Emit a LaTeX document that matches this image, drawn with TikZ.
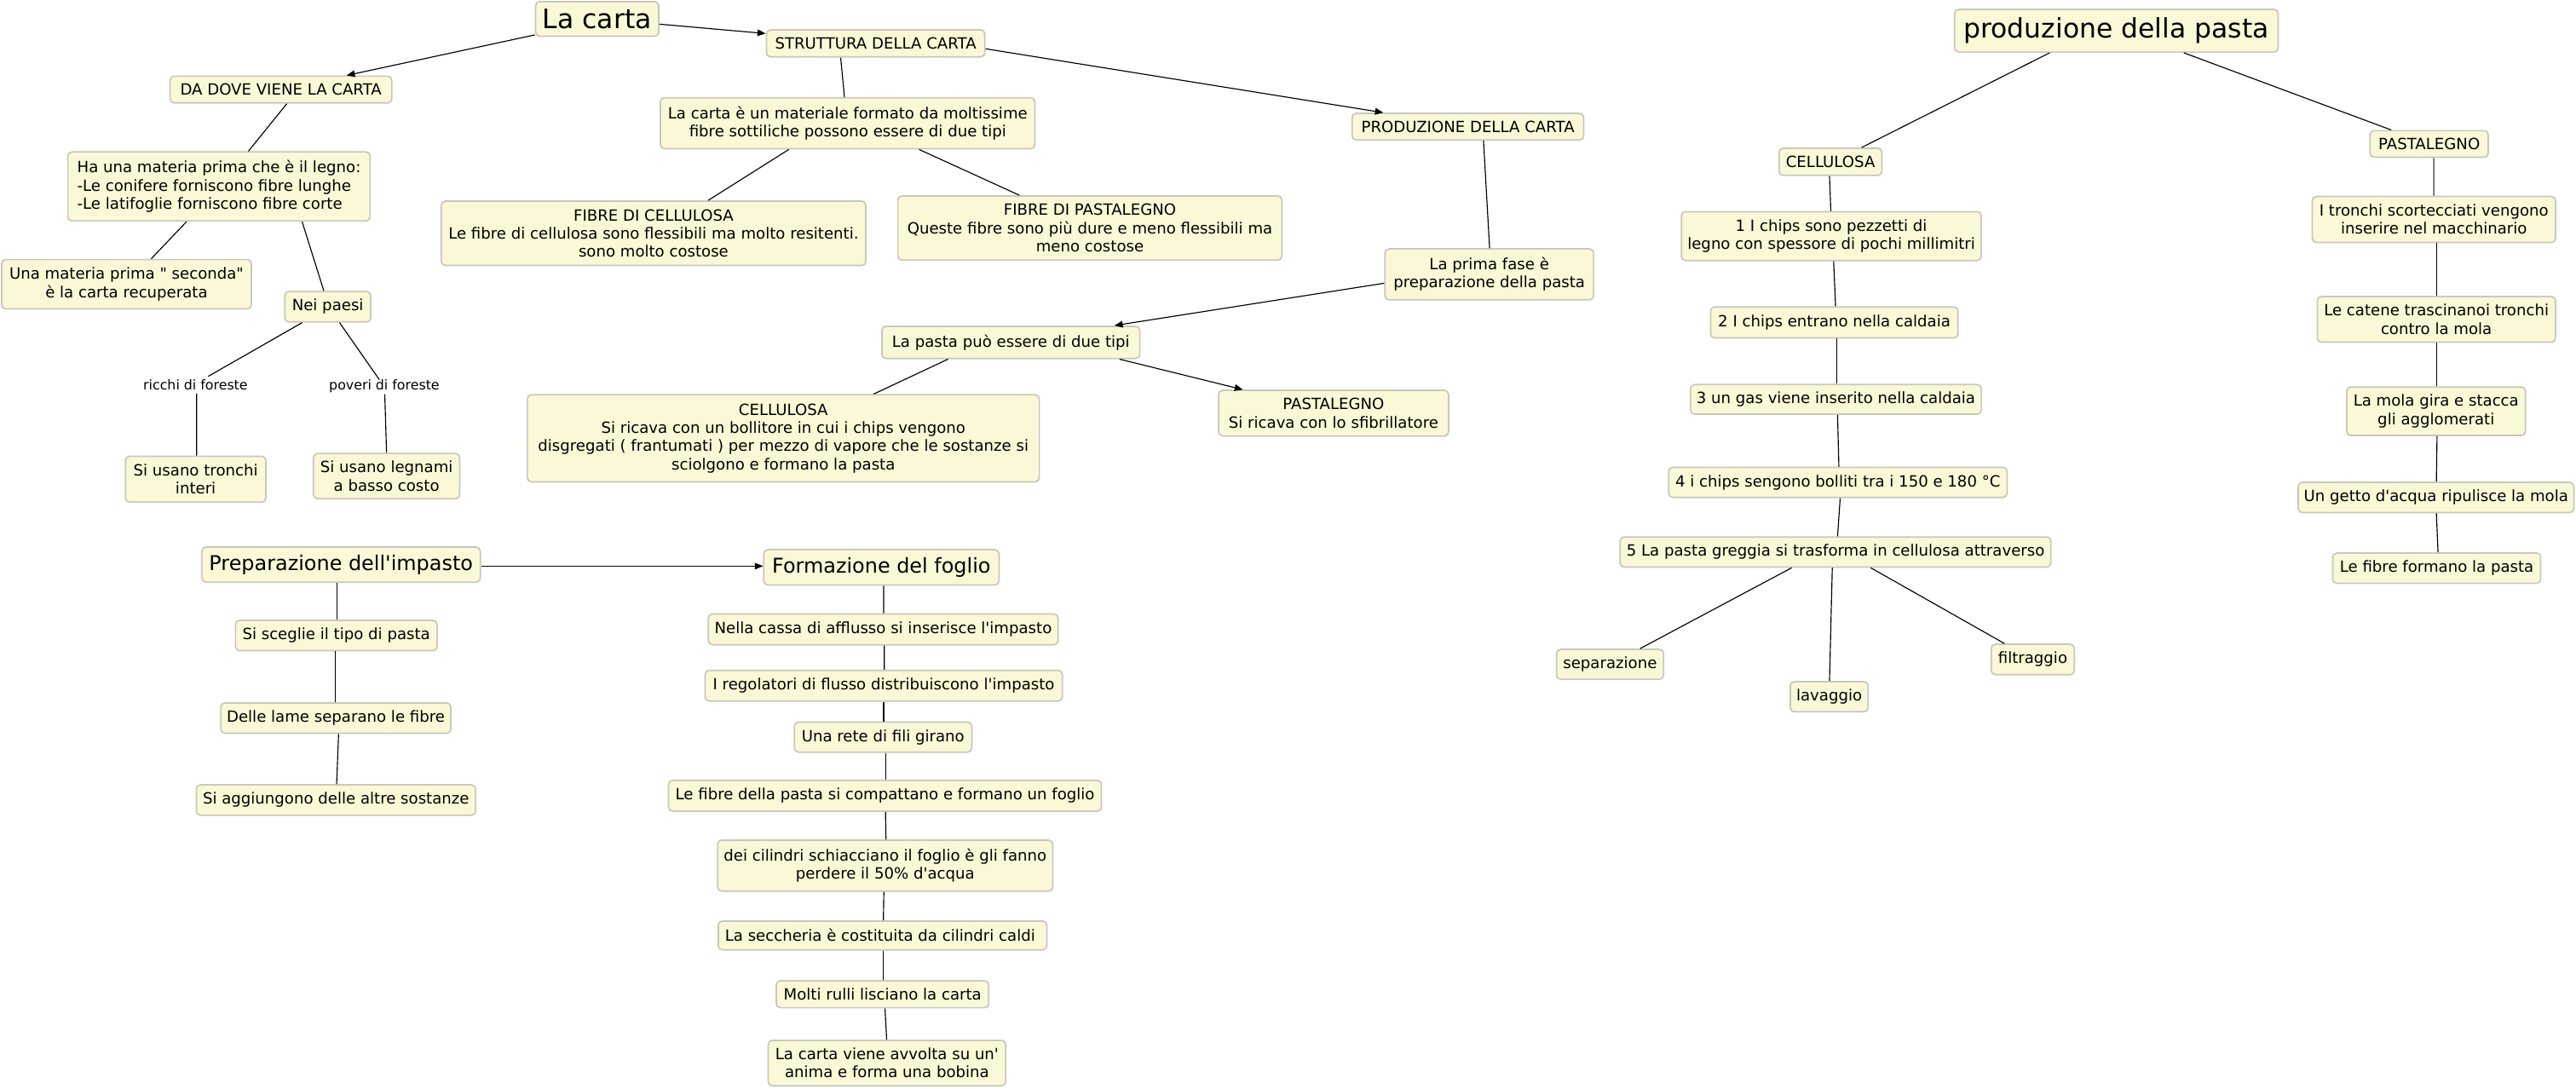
\documentclass[tikz,border=0pt]{standalone}
\usepackage{fontspec}
\setmainfont{DejaVu Sans}
\usetikzlibrary{arrows.meta}
\definecolor{boxfill}{RGB}{250,248,214}
\definecolor{boxline}{RGB}{200,200,188}
\newcommand{\qs}{\textquotesingle}
\newcommand{\qd}{\textquotedbl}
\begin{document}
\begin{tikzpicture}[x=1pt,y=-1pt,
  box/.style={draw=boxline,fill=boxfill,line width=0.9pt,rounded corners=2.5pt,
    inner sep=0pt,align=center,font=\fontsize{9.4}{11}\selectfont},
  big/.style={box,font=\fontsize{16.3}{18}\selectfont},
  mid/.style={box,font=\fontsize{12.4}{14}\selectfont},
  lbl/.style={inner sep=0pt,minimum height=10pt,font=\fontsize{8.2}{10}\selectfont},
  conn/.style={draw=black,line width=0.6pt},
  arr/.style={conn,-{Triangle[length=5pt,width=4pt]}}]
\useasboundingbox (0,0) rectangle (1568,662.4);
\fill[white] (0,0) rectangle (1568,662.4);

% ---------- La carta ----------
\node[big,minimum width=75pt,minimum height=21pt] (lacarta) at (363.5,11.5) {La carta};
\node[box,minimum width=133pt,minimum height=16.4pt] (strutt) at (533,26.4) {STRUTTURA DELLA CARTA};
\node[box,minimum width=135pt,minimum height=16.3pt] (dadove) at (171,54.5) {DA DOVE VIENE LA CARTA};
\node[box,minimum width=228pt,minimum height=31pt] (materiale) at (516,75) {La carta è un materiale formato da moltissime\\fibre sottiliche possono essere di due tipi};
\node[box,minimum width=141pt,minimum height=16.2pt] (prodcarta) at (893.5,77.1) {PRODUZIONE DELLA CARTA};
\node[box,align=left,minimum width=184pt,minimum height=42pt] (haun) at (133.3,113.5) {Ha una materia prima che è il legno:\\-Le conifere forniscono fibre lunghe\\-Le latifoglie forniscono fibre corte};
\node[box,minimum width=258.4pt,minimum height=39.2pt] (fibcell) at (397.8,142) {FIBRE DI CELLULOSA\\Le fibre di cellulosa sono flessibili ma molto resitenti.\\sono molto costose};
\node[box,minimum width=233.8pt,minimum height=39pt] (fibpast) at (663.4,138.8) {FIBRE DI PASTALEGNO\\Queste fibre sono più dure e meno flessibili ma\\meno costose};
\node[box,minimum width=152pt,minimum height=30pt] (seconda) at (77,173) {Una materia prima \qd\ seconda\qd\\è la carta recuperata};
\node[box,minimum width=52.3pt,minimum height=18.5pt] (neipaesi) at (199.5,186.7) {Nei paesi};
\node[box,minimum width=127pt,minimum height=31pt] (primafase) at (906.5,167) {La prima fase è\\preparazione della pasta};
\node[box,minimum width=157pt,minimum height=19.6pt] (pastatipi) at (615.3,208.4) {La pasta può essere di due tipi};
\node[box,minimum width=311.6pt,minimum height=53pt] (cellulosa) at (476.8,266.8) {CELLULOSA\\Si ricava con un bollitore in cui i chips vengono\\disgregati ( frantumati ) per mezzo di vapore che le sostanze si\\sciolgono e formano la pasta};
\node[box,minimum width=140pt,minimum height=27.8pt] (pastalegno) at (811.7,251.5) {PASTALEGNO\\Si ricava con lo sfibrillatore};
\node[lbl] (ricchi) at (119,234.3) {ricchi di foreste};
\node[lbl] (poveri) at (233.9,234.8) {poveri di foreste};
\node[box,minimum width=85.4pt,minimum height=27.9pt] (tronchi) at (119.1,291.7) {Si usano tronchi\\interi};
\node[box,minimum width=89pt,minimum height=27.6pt] (legnami) at (235.3,289.8) {Si usano legnami\\a basso costo};

\draw[arr] ([yshift=1.2pt]lacarta.south west) -- ([xshift=40pt]dadove.north);
\draw[arr] ([yshift=-3.2pt]lacarta.east) -- ([yshift=6pt]strutt.west);
\draw[arr] ([yshift=-3.3pt]strutt.east) -- ([xshift=-51.5pt]prodcarta.north);
\draw[conn] ([xshift=-21.3pt]strutt.south) -- ([xshift=-2pt]materiale.north);
\draw[conn] ([xshift=-35.8pt]materiale.south) -- ([xshift=33.3pt]fibcell.north);
\draw[conn] ([xshift=43.4pt]materiale.south) -- ([xshift=-42.9pt]fibpast.north);
\draw[conn] ([xshift=9.5pt]prodcarta.south) -- ([xshift=0.2pt]primafase.north);
\draw[arr] ([yshift=-5.4pt]primafase.west) -- ([xshift=63.1pt]pastatipi.north);
\draw[conn] ([xshift=-38.3pt]pastatipi.south) -- ([xshift=55pt]cellulosa.north);
\draw[arr] ([xshift=66.2pt]pastatipi.south) -- ([xshift=-55.2pt]pastalegno.north);
\draw[conn] ([xshift=3.6pt]dadove.south) -- ([xshift=17.9pt]haun.north);
\draw[conn] ([xshift=-19.8pt]haun.south) -- ([xshift=15pt]seconda.north);
\draw[conn] ([xshift=50.6pt]haun.south) -- ([xshift=-2.4pt]neipaesi.north);
\draw[conn] ([xshift=-15.6pt]neipaesi.south) -- ([xshift=7.7pt]ricchi.north);
\draw[conn] ([xshift=0.7pt]ricchi.south) -- ([xshift=0.6pt]tronchi.north);
\draw[conn] ([xshift=7.2pt]neipaesi.south) -- ([xshift=-3pt,yshift=-1.5pt]poveri.north);
\draw[conn] ([xshift=0.3pt]poveri.south) -- (legnami.north);

% ---------- Preparazione / Formazione ----------
\node[mid,minimum width=169.5pt,minimum height=21.3pt] (prep) at (207.6,343.7) {Preparazione dell\qs impasto};
\node[mid,minimum width=143.2pt,minimum height=21.5pt] (formaz) at (536.5,345.3) {Formazione del foglio};
\node[box,minimum width=122.7pt,minimum height=18.5pt] (sisceglie) at (204.7,386.8) {Si sceglie il tipo di pasta};
\node[box,minimum width=140pt,minimum height=18.5pt] (lame) at (204.4,437.1) {Delle lame separano le fibre};
\node[box,minimum width=170pt,minimum height=18.5pt] (aggiungono) at (204.5,487) {Si aggiungono delle altre sostanze};
\node[box,minimum width=212.9pt,minimum height=18.7pt] (cassa) at (537.6,383.1) {Nella cassa di afflusso si inserisce l\qs impasto};
\node[box,minimum width=217.5pt,minimum height=18.7pt] (regolatori) at (537.9,417.4) {I regolatori di flusso distribuiscono l\qs impasto};
\node[box,minimum width=108pt,minimum height=18.3pt] (rete) at (537.5,448.7) {Una rete di fili girano};
\node[box,minimum width=263.5pt,minimum height=18.8pt] (fibrecomp) at (538.7,484.4) {Le fibre della pasta si compattano e formano un foglio};
\node[box,minimum width=204pt,minimum height=31pt] (cilindri) at (538.8,526.9) {dei cilindri schiacciano il foglio è gli fanno\\perdere il 50\% d\qs acqua};
\node[box,minimum width=200pt,minimum height=17.5pt] (seccheria) at (537.2,569.4) {La seccheria è costituita da cilindri caldi\ };
\node[box,minimum width=129.3pt,minimum height=16.4pt] (rulli) at (537.2,605.2) {Molti rulli lisciano la carta};
\node[box,minimum width=144.5pt,minimum height=27.7pt] (bobina) at (539.9,647.1) {La carta viene avvolta su un\qs\\anima e forma una bobina};

\draw[arr] ([yshift=-0.9pt]prep.east) -- ([yshift=-0.9pt]prep.east -| formaz.west);
\draw[conn] ([xshift=-2.3pt]prep.south) -- ([xshift=0.6pt]sisceglie.north);
\draw[conn] ([xshift=-0.6pt]sisceglie.south) -- ([xshift=-0.3pt]lame.north);
\draw[conn] ([xshift=1.7pt]lame.south) -- ([xshift=0.4pt]aggiungono.north);
\draw[conn] ([xshift=1.4pt]formaz.south) -- ([xshift=0.3pt]cassa.north);
\draw[conn] ([xshift=0.7pt]cassa.south) -- ([xshift=0.4pt]regolatori.north);
\draw[conn] (regolatori.south) -- ([xshift=0.4pt]rete.north);
\draw[conn] ([xshift=1.5pt]rete.south) -- ([xshift=0.3pt]fibrecomp.north);
\draw[conn] ([xshift=0.3pt]fibrecomp.south) -- ([xshift=0.5pt]cilindri.north);
\draw[conn] ([xshift=-0.8pt]cilindri.south) -- ([xshift=0.5pt]seccheria.north);
\draw[conn] ([xshift=0.5pt]seccheria.south) -- ([xshift=0.5pt]rulli.north);
\draw[conn] ([xshift=1.5pt]rulli.south) -- ([xshift=-0.2pt]bobina.north);

% ---------- produzione della pasta ----------
\node[big,minimum width=197pt,minimum height=26pt] (prodpasta) at (1288.2,18.7) {produzione della pasta};
\node[box,minimum width=62.7pt,minimum height=16.5pt] (rcell) at (1114.2,98.5) {CELLULOSA};
\node[box,minimum width=72pt,minimum height=16.1pt] (rpast) at (1478.6,87.6) {PASTALEGNO};
\node[box,minimum width=182.5pt,minimum height=29.7pt] (chips1) at (1114.7,143.7) {1 I chips sono pezzetti di\\legno con spessore di pochi millimitri};
\node[box,minimum width=150.6pt,minimum height=18.8pt] (chips2) at (1116.5,196.3) {2 I chips entrano nella caldaia};
\node[box,minimum width=177pt,minimum height=18pt] (gas) at (1117.5,243.1) {3 un gas viene inserito nella caldaia};
\node[box,minimum width=206pt,minimum height=18.3pt] (chips4) at (1118.7,293.6) {4 i chips sengono bolliti tra i 150 e 180 °C};
\node[box,minimum width=262.2pt,minimum height=18.3pt] (greggia) at (1117.3,336) {5 La pasta greggia si trasforma in cellulosa attraverso};
\node[box,minimum width=65.1pt,minimum height=18.3pt] (separazione) at (980,404.4) {separazione};
\node[box,minimum width=47.4pt,minimum height=18.3pt] (lavaggio) at (1113.4,424.1) {lavaggio};
\node[box,minimum width=50.6pt,minimum height=18.5pt] (filtraggio) at (1237.3,401.4) {filtraggio};
\node[box,minimum width=148pt,minimum height=28pt] (tronchisc) at (1481.5,133.6) {I tronchi scortecciati vengono\\inserire nel macchinario};
\node[box,minimum width=145pt,minimum height=27.8pt] (catene) at (1483,194.4) {Le catene trascinanoi tronchi\\contro la mola};
\node[box,minimum width=108.8pt,minimum height=29.5pt] (mola) at (1482.8,250.3) {La mola gira e stacca\\gli agglomerati};
\node[box,minimum width=167.8pt,minimum height=18.4pt] (getto) at (1482.8,302.8) {Un getto d\qs acqua ripulisce la mola};
\node[box,minimum width=126.6pt,minimum height=18.4pt] (fibreformano) at (1483.2,345.8) {Le fibre formano la pasta};

\draw[conn] ([xshift=-40.6pt]prodpasta.south) -- ([xshift=18.9pt]rcell.north);
\draw[conn] ([xshift=41.1pt]prodpasta.south) -- ([xshift=-23.1pt]rpast.north);
\draw[conn] ([xshift=-0.6pt]rcell.south) -- ([xshift=-0.3pt]chips1.north);
\draw[conn] ([xshift=1.4pt]chips1.south) -- ([xshift=0.8pt]chips2.north);
\draw[conn] ([xshift=1.6pt]chips2.south) -- ([xshift=0.6pt]gas.north);
\draw[conn] ([xshift=1pt]gas.south) -- ([xshift=0.6pt]chips4.north);
\draw[conn] ([xshift=1.4pt]chips4.south) -- ([xshift=1.2pt]greggia.north);
\draw[conn] ([xshift=-26.7pt]greggia.south) -- ([xshift=18.3pt]separazione.north);
\draw[conn] ([xshift=-2pt]greggia.south) -- ([xshift=0.2pt]lavaggio.north);
\draw[conn] ([xshift=21.4pt]greggia.south) -- ([xshift=-17.2pt]filtraggio.north);
\draw[conn] ([xshift=2.8pt]rpast.south) -- ([xshift=-0.1pt]tronchisc.north);
\draw[conn] ([xshift=1.5pt]tronchisc.south) -- (catene.north);
\draw[conn] (catene.south) -- ([xshift=0.2pt]mola.north);
\draw[conn] ([xshift=0.6pt]mola.south) -- ([xshift=0.2pt]getto.north);
\draw[conn] ([xshift=0.2pt]getto.south) -- ([xshift=0.8pt]fibreformano.north);
\end{tikzpicture}
\end{document}
